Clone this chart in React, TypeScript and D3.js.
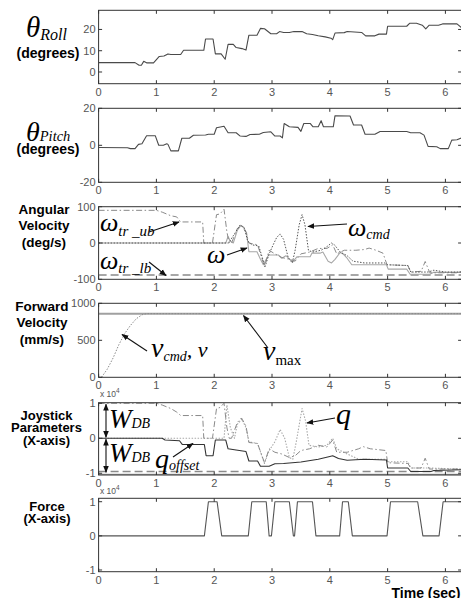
import React from "react";
import * as d3 from "d3";

// ---------- data ----------
const xTicks = [0, 1, 2, 3, 4, 5, 6];

const rollData: [number, number][] = [
  [0, 4.4], [0.63, 4.4], [0.7, 3.2], [0.74, 3.2], [0.78, 5], [0.83, 4.3], [0.95, 4.3], [1.05, 7.3], [1.13, 7.5],
  [1.2, 8.5], [1.25, 8.2], [1.42, 8.2], [1.47, 10.2], [1.82, 10.2], [1.85, 15.5], [1.98, 15.5], [2.02, 8.5],
  [2.12, 8.5], [2.19, 6], [2.24, 13], [2.33, 13], [2.38, 11.5], [2.48, 11], [2.55, 10.3], [2.6, 17.3],
  [2.74, 17.3], [2.8, 20.5], [2.87, 20.3], [2.98, 18], [3.08, 18], [3.13, 19], [3.2, 18.6], [3.3, 18.6],
  [3.38, 19], [3.52, 19], [3.6, 18], [3.7, 17.6], [3.8, 17], [3.92, 16.5], [4.02, 15.9], [4.05, 15.2],
  [4.09, 18.3], [4.25, 18.5], [4.3, 19], [4.55, 18.6], [4.62, 17], [4.78, 17], [4.85, 17.8], [4.98, 17.8],
  [5.0, 21.5], [5.33, 21.5], [5.38, 22.9], [5.5, 22.9], [5.6, 22], [5.66, 20.3], [5.72, 22], [5.88, 22],
  [5.95, 22.6], [6.2, 22.6], [6.28, 20.8],
];

const pitchData: [number, number][] = [
  [0, -1.2], [0.5, -1.3], [0.55, -1.8], [0.63, -1.8], [0.69, 0.5], [0.75, 0.8], [0.83, 5.2], [0.98, 5.2],
  [1.04, 0], [1.12, 0], [1.18, 0.8], [1.2, 0.5], [1.25, -3], [1.38, -3], [1.44, 3.8], [1.57, 3.8], [1.64, 5.4],
  [1.85, 5.6], [1.9, 6], [2.0, 6], [2.04, 9.5], [2.17, 10.3], [2.24, 6.8], [2.38, 6.8], [2.45, 5], [2.55, 4.8],
  [2.62, 5.8], [2.78, 6], [2.85, 6.9], [2.98, 7.3], [3.05, 5], [3.14, 5], [3.18, 4], [3.21, 11.8], [3.3, 10],
  [3.45, 9.7], [3.5, 7.5], [3.55, 11.8], [3.66, 11.8], [3.71, 10], [3.8, 10], [3.85, 13.3], [3.89, 10],
  [4.06, 10], [4.09, 16], [4.35, 15.8], [4.41, 11], [4.55, 11], [4.61, 6], [4.78, 6], [4.87, 7.5], [5.33, 7.5],
  [5.4, 6.8], [5.56, 6.8], [5.63, 5.5], [5.7, -0.6], [5.85, -0.8], [5.91, -1.8], [6.05, -1.8], [6.11, 2.8],
  [6.2, 3], [6.28, 4],
];

const omegaData: [number, number][] = [
  [0, 0], [2.2, 0], [2.24, 18], [2.28, 5], [2.33, 0], [2.4, 35], [2.46, 48], [2.5, 45], [2.56, 28], [2.6, -24],
  [2.74, -24], [2.8, -45], [2.85, -60], [2.9, -45], [2.94, -33], [3.11, -33], [3.17, -42], [3.24, -35],
  [3.31, -45], [3.36, -52], [3.43, -38], [3.66, -38], [3.69, -28], [3.83, -28], [3.88, -25], [3.97, -50],
  [4.03, -55], [4.09, -45], [4.18, -26], [4.23, -30], [4.29, -40], [4.38, -60], [4.98, -60], [5.01, -72],
  [5.33, -72], [5.39, -86], [5.73, -86], [5.79, -81], [6.28, -81],
];

const omegaCmdData: [number, number][] = [
  [0, 0], [2.25, 0], [2.33, 20], [2.45, 50], [2.52, 42], [2.58, 5], [2.65, -5], [2.77, -8], [2.88, -65],
  [2.95, -30], [3.02, -5], [3.08, 15], [3.14, 25], [3.2, 10], [3.28, -40], [3.35, -55], [3.4, -20], [3.47, 50],
  [3.52, 78], [3.57, 50], [3.63, -20], [3.7, -25], [3.85, -20], [3.95, -10], [4.03, 0], [4.08, -5],
  [4.18, -25], [4.3, -35], [4.4, -50], [4.6, -55], [4.95, -55], [5.0, -60], [5.35, -62], [5.4, -80],
  [5.7, -80], [5.8, -75], [6.0, -80], [6.28, -80],
];

const omegaUbData: [number, number][] = [
  [0, 90], [1.0, 90], [1.1, 85], [1.25, 75], [1.35, 72], [1.42, 58], [1.8, 58], [1.82, 0], [1.97, 0],
  [2.04, 78], [2.1, 80], [2.17, 93], [2.22, 30], [2.26, 0], [2.3, 0], [2.4, 40], [2.47, 48], [2.55, 30],
  [2.6, 0], [2.75, -5], [2.87, -65], [2.95, -20], [3.05, -30], [3.17, -40], [3.3, -45], [3.4, -50],
  [3.5, -30], [3.65, -25], [3.8, -15], [3.95, -15], [4.05, -5], [4.12, -30], [4.25, -20], [4.45, -20],
  [4.6, -18], [4.68, -14], [4.8, -20], [4.92, -28], [4.99, -60], [5.35, -62], [5.4, -80], [5.58, -78],
  [5.65, -51], [5.73, -82], [6.2, -82], [6.28, -78],
];

const omegaLb = -88;

const vMax = 860;
const vCmdData: [number, number][] = [
  [0, 0], [0.05, 0], [0.15, 110], [0.25, 260], [0.35, 440], [0.45, 590], [0.55, 700], [0.65, 790],
  [0.75, 845], [0.83, 860], [6.28, 860],
];

const qOffsetData: [number, number][] = [
  [0, 0], [1.1, 0], [1.15, -0.05], [1.4, -0.07], [1.45, -0.18], [1.83, -0.18], [1.86, -0.5], [1.98, -0.5],
  [2.02, -0.05], [2.2, -0.05], [2.24, -0.3], [2.35, -0.33], [2.55, -0.38], [2.6, -0.65], [2.75, -0.65],
  [2.8, -0.8], [2.95, -0.8], [3.05, -0.73], [3.2, -0.72], [3.5, -0.68], [3.8, -0.6], [4.0, -0.52],
  [4.05, -0.5], [4.15, -0.58], [4.3, -0.63], [4.6, -0.6], [4.98, -0.62], [5.0, -0.85], [5.35, -0.85],
  [5.4, -0.95], [5.75, -0.95], [5.8, -0.92], [6.28, -0.9],
];

const qData: [number, number][] = [
  [0, 0], [2.17, 0], [2.22, 0.95], [2.28, 0.3], [2.35, 0], [2.4, 0.4], [2.48, 0.55], [2.55, 0.3], [2.6, -0.1],
  [2.75, -0.15], [2.87, -0.72], [2.95, -0.35], [3.05, -0.1], [3.14, 0.25], [3.22, 0.0], [3.3, -0.55],
  [3.36, -0.6], [3.42, -0.1], [3.52, 0.85], [3.58, 0.5], [3.64, -0.2], [3.8, -0.25], [3.95, -0.2], [4.05, 0],
  [4.12, -0.3], [4.3, -0.45], [4.5, -0.6], [4.98, -0.6], [5.0, -0.67], [5.35, -0.67], [5.4, -0.85],
  [5.7, -0.85], [6.28, -0.88],
];

const wUbData: [number, number][] = [
  [0, 1], [1.0, 1], [1.1, 0.95], [1.25, 0.85], [1.35, 0.75], [1.42, 0.65], [1.8, 0.65], [1.82, 0], [1.97, 0],
  [2.04, 0.85], [2.1, 0.88], [2.17, 1.0], [2.22, 0.3], [2.26, 0], [2.3, 0], [2.4, 0.45], [2.47, 0.58],
  [2.55, 0.35], [2.6, -0.12], [2.75, -0.15], [2.87, -0.7], [2.95, -0.3], [3.05, -0.4], [3.17, -0.45],
  [3.3, -0.55], [3.4, -0.5], [3.5, -0.35], [3.65, -0.3], [3.8, -0.2], [3.95, -0.25], [4.05, -0.05],
  [4.12, -0.4], [4.3, -0.4], [4.5, -0.3], [4.58, -0.24], [4.7, -0.3], [4.97, -0.35], [5.0, -0.7],
  [5.35, -0.72], [5.4, -0.85], [5.58, -0.85], [5.65, -0.57], [5.72, -0.88], [6.28, -0.88],
];

const wLb = -0.95;
const qMin = -1.05;

const forceData: [number, number][] = [
  [0, 0], [1.83, 0], [1.9, 1], [2.05, 1], [2.13, 0], [2.59, 0], [2.65, 1], [2.9, 1], [2.95, 0], [2.99, 0],
  [3.05, 1], [3.3, 1], [3.37, 0], [3.39, 0], [3.44, 1], [3.7, 1], [3.76, 0], [4.17, 0], [4.22, 1], [4.32, 1],
  [4.39, 0], [4.99, 0], [5.05, 1], [5.52, 1], [5.61, 0], [5.89, 0], [5.96, 1], [6.28, 1],
];

// ---------- layout ----------
const W = 461;
const H = 598;
const X0 = 98.6;
const X1 = 461.6;
const xScale = d3.scaleLinear().domain([0, 6.28]).range([X0, X1]);

type Series = { data: [number, number][]; stroke: string; width: number; dash?: string };
type PanelDef = {
  id: string;
  top: number;
  bottom: number;
  domain: [number, number];
  ticks: number[];
  series: Series[];
};

const panels: PanelDef[] = [
  {
    id: "roll", top: 10.3, bottom: 83.7, domain: [-5.5, 29], ticks: [0, 10, 20],
    series: [{ data: rollData, stroke: "#4a4a4a", width: 1.1 }],
  },
  {
    id: "pitch", top: 108.3, bottom: 182.3, domain: [-20, 20], ticks: [-20, 0, 20],
    series: [{ data: pitchData, stroke: "#4a4a4a", width: 1.1 }],
  },
  {
    id: "ang", top: 206.7, bottom: 279.3, domain: [-100, 100], ticks: [-100, 0, 100],
    series: [
      { data: [[0, omegaLb], [6.28, omegaLb]], stroke: "#8a8a8a", width: 1.5, dash: "8,4" },
      { data: omegaData, stroke: "#a8a8a8", width: 1.1 },
      { data: omegaUbData, stroke: "#8a8a8a", width: 1, dash: "6,2.5,1.5,2.5" },
      { data: omegaCmdData, stroke: "#555", width: 1, dash: "1.5,1.5" },
    ],
  },
  {
    id: "fwd", top: 303.3, bottom: 377.3, domain: [0, 1000], ticks: [0, 500, 1000],
    series: [
      { data: [[0, vMax], [6.28, vMax]], stroke: "#a0a0a0", width: 2 },
      { data: vCmdData, stroke: "#8a8a8a", width: 1, dash: "1.5,1.5" },
    ],
  },
  {
    id: "joy", top: 402.7, bottom: 475, domain: [-1.05, 1.017], ticks: [-1, 0, 1],
    series: [
      { data: [[0, qMin], [6.28, qMin]], stroke: "#a0a0a0", width: 2.5 },
      { data: [[0, wLb], [6.28, wLb]], stroke: "#8a8a8a", width: 1.5, dash: "8,4" },
      { data: qData, stroke: "#a8a8a8", width: 1.1, dash: "1.5,1.5" },
      { data: wUbData, stroke: "#8a8a8a", width: 1, dash: "6,2.5,1.5,2.5" },
      { data: qOffsetData, stroke: "#333", width: 1.1 },
    ],
  },
  {
    id: "force", top: 498.3, bottom: 571.7, domain: [-1.05, 1.1], ticks: [-1, 0, 1],
    series: [{ data: forceData, stroke: "#555", width: 1.1 }],
  },
];

const tickFont = "'Liberation Sans Narrow', 'Arial Narrow', 'Liberation Sans', Arial, sans-serif";
const labelFont = "'Liberation Sans', Arial, sans-serif";
const mathFont = "'Liberation Serif', 'Times New Roman', serif";

function Panel({ p }: { p: PanelDef }) {
  const y = d3.scaleLinear().domain(p.domain).range([p.bottom, p.top]);
  const line = d3.line<[number, number]>().x((d) => xScale(d[0])).y((d) => y(d[1]));
  const axisColor = "#333";
  return (
    <g>
      <clipPath id={`clip-${p.id}`}>
        <rect x={X0} y={p.top} width={X1 - X0} height={p.bottom - p.top} />
      </clipPath>
      <g clipPath={`url(#clip-${p.id})`}>
        {p.series.map((s, i) => (
          <path key={i} d={line(s.data) || ""} fill="none" stroke={s.stroke} strokeWidth={s.width}
            strokeDasharray={s.dash} strokeLinejoin="round" />
        ))}
      </g>
      <rect x={X0} y={p.top} width={X1 - X0} height={p.bottom - p.top} fill="none" stroke={axisColor} strokeWidth={1} />
      {xTicks.map((t) => (
        <g key={`x${t}`}>
          <line x1={xScale(t)} x2={xScale(t)} y1={p.bottom} y2={p.bottom - 3.5} stroke={axisColor} />
          <line x1={xScale(t)} x2={xScale(t)} y1={p.top} y2={p.top + 3.5} stroke={axisColor} />
          <text x={xScale(t)} y={p.bottom + 12} textAnchor="middle" fontSize={11} fill="#555" fontFamily={tickFont}>
            {t}
          </text>
        </g>
      ))}
      {p.ticks.map((t) => (
        <g key={`y${t}`}>
          <line x1={X0} x2={X0 + 3.5} y1={y(t)} y2={y(t)} stroke={axisColor} />
          <line x1={X1} x2={X1 - 3.5} y1={y(t)} y2={y(t)} stroke={axisColor} />
          <text x={X0 - 3} y={y(t) + 4} textAnchor="end" fontSize={11} fill="#555" fontFamily={tickFont}>
            {t}
          </text>
        </g>
      ))}
    </g>
  );
}

function Arrow({ x1, y1, x2, y2 }: { x1: number; y1: number; x2: number; y2: number }) {
  return <line x1={x1} y1={y1} x2={x2} y2={y2} stroke="#111" strokeWidth={1.1} markerEnd="url(#arrowHead)" />;
}

function Multi({ lines, x, y0, dy, size = 13.5 }: { lines: string[]; x: number; y0: number; dy: number; size?: number }) {
  return (
    <g>
      {lines.map((l, i) => (
        <text key={i} x={x} y={y0 + i * dy} textAnchor="middle" fontSize={size} fontWeight="bold"
          fontFamily={labelFont} fill="#000">
          {l}
        </text>
      ))}
    </g>
  );
}

export default function App() {
  const yAng = d3.scaleLinear().domain([-100, 100]).range([279.3, 206.7]);
  const yJoy = d3.scaleLinear().domain([-1.05, 1.017]).range([475, 402.7]);
  return (
    <svg width={W} height={H} style={{ position: "absolute", left: 0, top: 0, background: "#fff" }}
      fontFamily={labelFont}>
      <defs>
        <marker id="arrowHead" viewBox="0 0 10 10" refX="9" refY="5" markerWidth="7" markerHeight="7"
          orient="auto-start-reverse" markerUnits="userSpaceOnUse">
          <path d="M0,1 L10,5 L0,9 z" fill="#111" />
        </marker>
      </defs>
      <rect x={0} y={0} width={W} height={H} fill="#fff" />
      {panels.map((p) => (
        <Panel key={p.id} p={p} />
      ))}

      {/* Left labels */}
      <text x={26} y={36.5} fontFamily={mathFont} fontStyle="italic" fontSize={29}>
        θ<tspan fontSize={16} dy={3.5}>Roll</tspan>
      </text>
      <Multi lines={["(degrees)"]} x={48} y0={58} dy={16} size={14} />

      <text x={26} y={141} fontFamily={mathFont} fontStyle="italic" fontSize={28}>
        θ<tspan fontSize={14.5} dy={0}>Pitch</tspan>
      </text>
      <Multi lines={["(degrees)"]} x={48} y0={153.5} dy={16} size={14} />

      <Multi lines={["Angular", "Velocity", "(deg/s)"]} x={44} y0={213.5} dy={16.5} />
      <Multi lines={["Forward", "Velocity", "(mm/s)"]} x={42} y0={310.5} dy={16.5} />
      <Multi lines={["Joystick", "Parameters", "(X-axis)"]} x={46.5} y0={419.5} dy={12.7} size={13} />
      <Multi lines={["Force", "(X-axis)"]} x={47} y0={510.5} dy={12.8} size={13} />

      <text x={460.5} y={597.5} textAnchor="end" fontSize={14} fontWeight="bold" fontFamily={labelFont}>
        Time (sec)
      </text>

      {/* x 10^4 exponents */}
      <text x={100} y={397} fontSize={8.5} fill="#555" fontFamily={tickFont}>
        x 10<tspan fontSize={6.5} dy={-4}>4</tspan>
      </text>
      <text x={100} y={494} fontSize={8.5} fill="#555" fontFamily={tickFont}>
        x 10<tspan fontSize={6.5} dy={-4}>4</tspan>
      </text>

      {/* Angular velocity annotations */}
      <text x={100} y={231} fontFamily={mathFont} fontStyle="italic" fontSize={26}>
        ω<tspan fontSize={15} dy={5}>tr _ub</tspan>
      </text>
      <Arrow x1={149} y1={232} x2={179} y2={222} />
      <text x={348} y={236} fontFamily={mathFont} fontStyle="italic" fontSize={26}>
        ω<tspan fontSize={14} dy={3}>cmd</tspan>
      </text>
      <Arrow x1={347} y1={224} x2={308} y2={226.5} />
      <text x={207} y={263} fontFamily={mathFont} fontStyle="italic" fontSize={26}>
        ω
      </text>
      <Arrow x1={227} y1={255} x2={247} y2={248} />
      <text x={100} y={269} fontFamily={mathFont} fontStyle="italic" fontSize={26}>
        ω<tspan fontSize={15} dy={4}>tr _lb</tspan>
      </text>
      <Arrow x1={149} y1={262} x2={166} y2={yAng(omegaLb) + 0.5} />

      {/* Forward velocity annotations */}
      <text x={151} y={357} fontFamily={mathFont} fontStyle="italic" fontSize={28}>
        v<tspan fontSize={14} dy={4}>cmd</tspan>
        <tspan fontSize={22} dy={-4}>, v</tspan>
      </text>
      <Arrow x1={147} y1={351} x2={122} y2={334.5} />
      <text x={263} y={360} fontFamily={mathFont} fontStyle="italic" fontSize={28}>
        v<tspan fontSize={15} fontStyle="normal" dy={5}>max</tspan>
      </text>
      <Arrow x1={268} y1={348} x2={243.5} y2={315.5} />

      {/* Joystick annotations */}
      <line x1={106} x2={106} y1={yJoy(1) + 1} y2={yJoy(0) - 1} stroke="#111" strokeWidth={1.1}
        markerEnd="url(#arrowHead)" markerStart="url(#arrowHead)" />
      <line x1={106} x2={106} y1={yJoy(0) + 1} y2={yJoy(-1) - 1} stroke="#111" strokeWidth={1.1}
        markerEnd="url(#arrowHead)" markerStart="url(#arrowHead)" />
      <text x={109} y={428} fontFamily={mathFont} fontStyle="italic" fontSize={27}>
        W<tspan fontSize={14} dy={0}>DB</tspan>
      </text>
      <text x={109} y={462} fontFamily={mathFont} fontStyle="italic" fontSize={27}>
        W<tspan fontSize={14} dy={0}>DB</tspan>
      </text>
      <text x={155} y={468} fontFamily={mathFont} fontStyle="italic" fontSize={28}>
        q<tspan fontSize={14} dy={2}>offset</tspan>
      </text>
      <Arrow x1={173} y1={457} x2={193} y2={443.5} />
      <text x={336} y={424} fontFamily={mathFont} fontStyle="italic" fontSize={30}>
        q
      </text>
      <Arrow x1={335} y1={418} x2={307} y2={423} />
    </svg>
  );
}
